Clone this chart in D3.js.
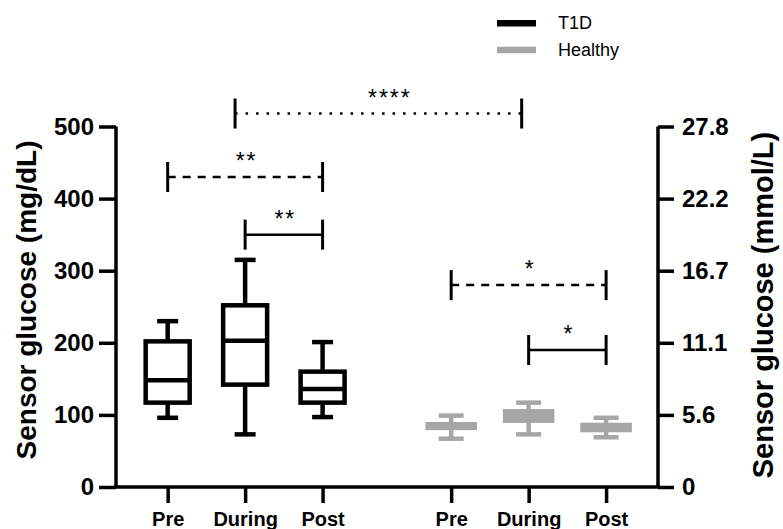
<!DOCTYPE html>
<html>
<head>
<meta charset="utf-8">
<script src="https://cdn.jsdelivr.net/npm/d3@7"></script>
<style>
  body { margin: 0; background: #fff; }
  svg { font-family: Arial, "Liberation Sans", sans-serif; }
</style>
</head>
<body>
<div id="chart"></div>
<script>
// data (mg/dL)
const groups = ["T1D", "Healthy"];
const phases = ["Pre", "During", "Post"];
const t1dStats = [
  { min: 96, q1: 117, med: 148, q3: 202, max: 230 },
  { min: 73, q1: 142, med: 203, q3: 252, max: 315 },
  { min: 97, q1: 117, med: 136, q3: 160, max: 201 }
];
const healthyStats = [
  { min: 67, q1: 82, med: 85, q3: 87, max: 99 },
  { min: 73, q1: 92, med: 100, q3: 105, max: 117 },
  { min: 69, q1: 79, med: 83, q3: 86, max: 96 }
];
const leftTicks = [0, 100, 200, 300, 400, 500];
const mmolLabels = ["0", "5.6", "11.1", "16.7", "22.2", "27.8"];
// comparisons: from, to (slot positions), height (mg/dL), stars, line style
const comparisons = [
  { from: 0.87, to: 4.57, level: 518, label: "****", style: "dotted" },
  { from: 0, to: 2, level: 430, label: "**", style: "dashed" },
  { from: 1, to: 2, level: 350, label: "**", style: "solid" },
  { from: 3.66, to: 5.66, level: 280, label: "*", style: "dashed" },
  { from: 4.66, to: 5.66, level: 190, label: "*", style: "solid" }
];

const width = 783, height = 529;
const colors = { T1D: "#000", Healthy: "#a6a6a6" };

const svg = d3.select("#chart").append("svg")
  .attr("width", width).attr("height", height);

const x = d3.scaleLinear().domain([-0.667, 6.33]).range([116, 658]);
const y = d3.scaleLinear().domain([0, 500]).range([487, 126.5]);
const slot = (g, i) => g * 3.66 + i;

// axes
const left = svg.append("g").attr("transform", `translate(${x.range()[0]},0)`)
  .call(d3.axisLeft(y).tickValues(leftTicks).tickSize(17).tickPadding(5));
const right = svg.append("g").attr("transform", `translate(${x.range()[1]},0)`)
  .call(d3.axisRight(y).tickValues(leftTicks).tickSize(16).tickPadding(8)
    .tickFormat((d, i) => mmolLabels[i]));
const tickPos = [];
groups.forEach((g, gi) => phases.forEach((p, i) => tickPos.push({ v: slot(gi, i), p })));
const bottom = svg.append("g").attr("transform", `translate(0,${y(0)})`)
  .call(d3.axisBottom(x).tickValues(tickPos.map(d => d.v)).tickSize(16).tickPadding(9)
    .tickFormat((d, i) => tickPos[i].p));

[left, right, bottom].forEach(a => {
  a.select(".domain").attr("stroke", "#000").attr("stroke-width", 3.5);
  a.selectAll(".tick line").attr("stroke", "#000").attr("stroke-width", 3.5);
  a.selectAll(".tick text").attr("font-weight", "bold")
    .attr("fill", "#000").attr("font-family", null);
});
left.select(".domain").attr("d", `M0,${y(500)}V${y(0)}`);
right.select(".domain").attr("d", `M0,${y(500)}V${y(0)}`);
bottom.select(".domain").attr("d", `M${x.range()[0] - 2},0H${x.range()[1] + 2}`);
left.selectAll(".tick text").attr("font-size", 24);
right.selectAll(".tick text").attr("font-size", 24);
bottom.selectAll(".tick text").attr("font-size", 20);

svg.append("text").attr("transform", "translate(36,300) rotate(-90)")
  .attr("text-anchor", "middle").attr("font-size", 28).attr("font-weight", "bold")
  .text("Sensor glucose (mg/dL)");
svg.append("text").attr("transform", "translate(773,305) rotate(-90)")
  .attr("text-anchor", "middle").attr("font-size", 29).attr("font-weight", "bold")
  .text("Sensor glucose (mmol/L)");

// box plots
function drawBoxes(stats, gi) {
  const col = colors[groups[gi]];
  const solid = gi === 1;
  const bw = solid ? 47 : 44, cw = solid ? 25 : 21;
  const g = svg.append("g").attr("stroke", col).attr("stroke-width", 4.5).attr("fill", "none");
  stats.forEach((s, i) => {
    const cx = x(slot(gi, i));
    g.append("line").attr("x1", cx).attr("x2", cx).attr("y1", y(s.max)).attr("y2", y(s.q3));
    g.append("line").attr("x1", cx).attr("x2", cx).attr("y1", y(s.q1)).attr("y2", y(s.min));
    g.append("line").attr("x1", cx - cw / 2).attr("x2", cx + cw / 2).attr("y1", y(s.max)).attr("y2", y(s.max));
    g.append("line").attr("x1", cx - cw / 2).attr("x2", cx + cw / 2).attr("y1", y(s.min)).attr("y2", y(s.min));
    g.append("rect").attr("x", cx - bw / 2).attr("width", bw)
      .attr("y", y(s.q3)).attr("height", y(s.q1) - y(s.q3))
      .attr("fill", solid ? col : "#fff");
    g.append("line").attr("x1", cx - bw / 2).attr("x2", cx + bw / 2).attr("y1", y(s.med)).attr("y2", y(s.med));
  });
}
drawBoxes(t1dStats, 0);
drawBoxes(healthyStats, 1);

// significance brackets
const dash = { dotted: "2.5,8", dashed: "8,7", solid: null };
comparisons.forEach(c => {
  const x1 = x(c.from), x2 = x(c.to), yy = y(c.level);
  const g = svg.append("g").attr("stroke", "#000");
  g.append("line").attr("x1", x1).attr("x2", x2).attr("y1", yy).attr("y2", yy)
    .attr("stroke-width", 2.5)
    .attr("stroke-dasharray", dash[c.style]);
  [x1, x2].forEach(xx => g.append("line").attr("x1", xx).attr("x2", xx)
    .attr("y1", yy - 15).attr("y2", yy + 15).attr("stroke-width", 3));
  const mid = c.style === "dotted" ? (x1 + x2) / 2 + 10 : (x1 + x2) / 2;
  svg.append("text").attr("x", mid + 1.5).attr("y", yy - 8)
    .attr("text-anchor", "middle").attr("font-size", 23).attr("letter-spacing", 2)
    .text(c.label);
});

// legend
const leg = svg.append("g");
groups.forEach((gname, i) => {
  const ly = 23.3 + i * 26.7;
  leg.append("line").attr("x1", 497).attr("x2", 536).attr("y1", ly).attr("y2", ly)
    .attr("stroke", colors[gname]).attr("stroke-width", 6.5);
  leg.append("text").attr("x", 558).attr("y", ly + 6).attr("font-size", 18).text(gname);
});
</script>
</body>
</html>
